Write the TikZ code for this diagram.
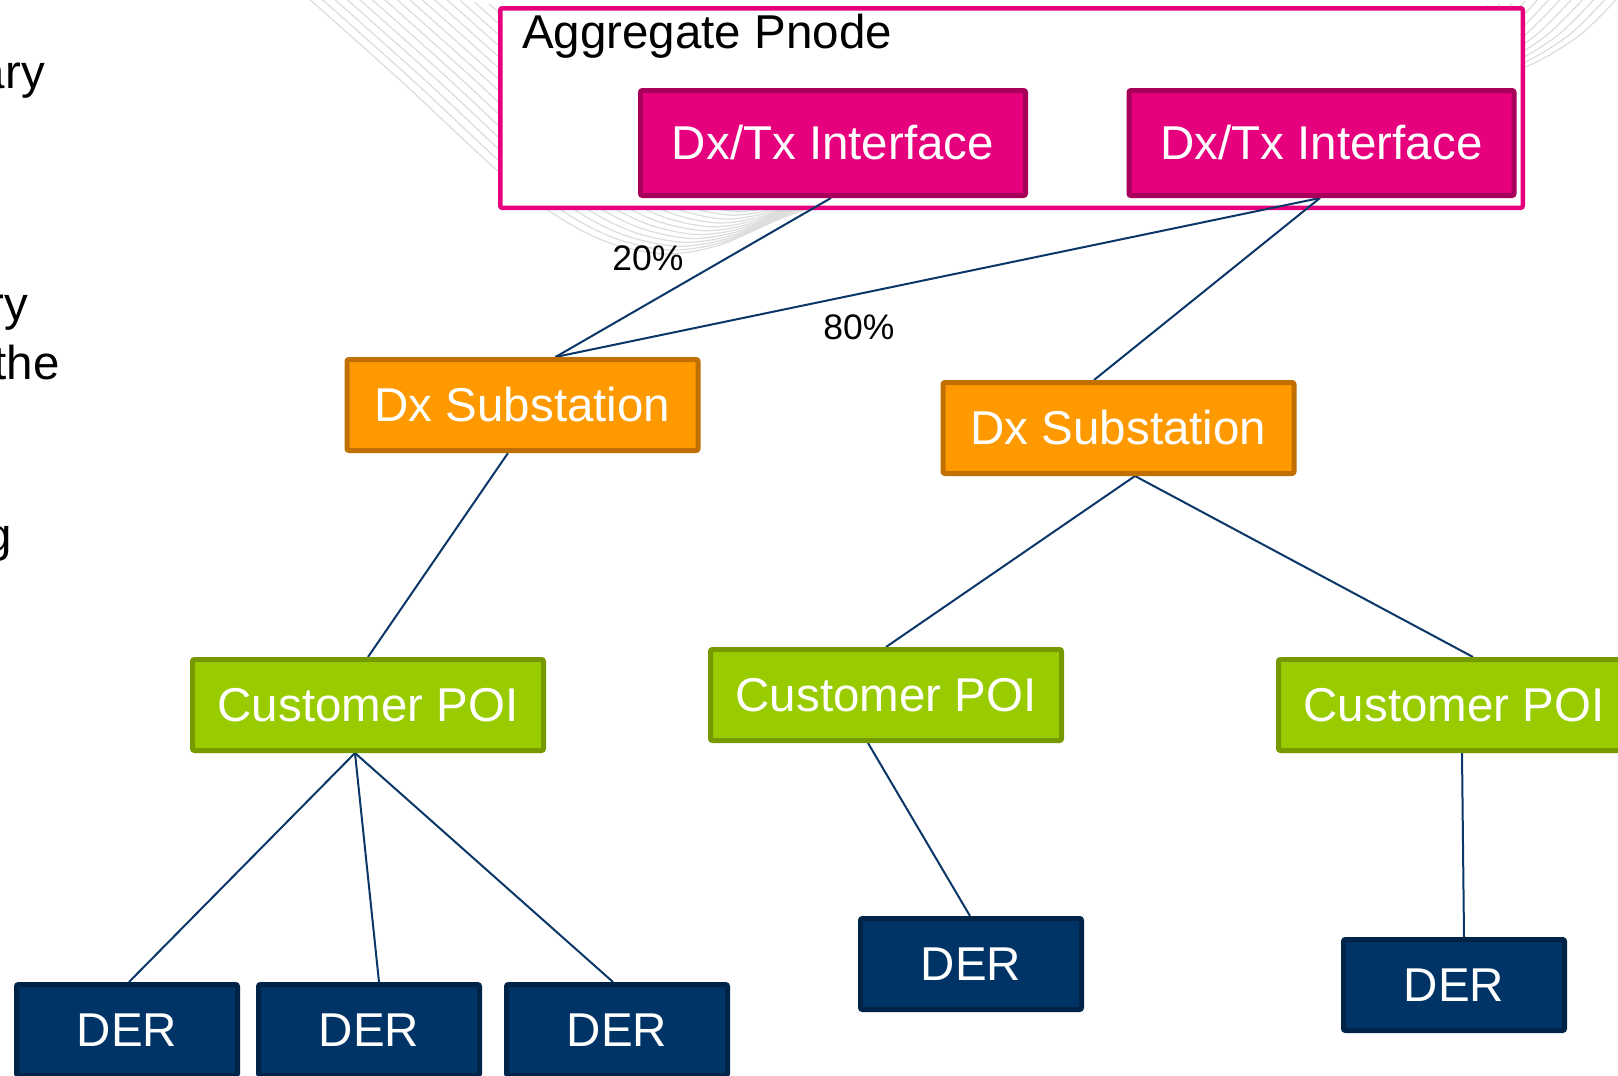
\documentclass[tikz,border=0pt]{standalone}
\usepackage{fontspec}
\setmainfont{Liberation Sans}
\usetikzlibrary{calc}
\pgfdeclarelayer{arcs}
\pgfdeclarelayer{agg}
\pgfdeclarelayer{links}
\pgfsetlayers{arcs,agg,links,main}

\definecolor{mag}{HTML}{E6007E}
\definecolor{magd}{HTML}{A8005A}
\definecolor{org}{HTML}{FF9900}
\definecolor{orgd}{HTML}{C07000}
\definecolor{grn}{HTML}{99CC00}
\definecolor{grnd}{HTML}{779900}
\definecolor{nav}{HTML}{003366}
\definecolor{navd}{HTML}{002447}
\definecolor{linkc}{HTML}{0A3668}
\definecolor{arcgray}{HTML}{DCDCDC}

\tikzset{
  box/.style={rectangle, rounded corners=2pt, line width=5pt, inner sep=0pt, text=white,
    font=\fontsize{47.5}{50}\selectfont, minimum height=91pt, minimum width=351pt},
  iface/.style={box, fill=mag, draw=magd, minimum width=385pt, minimum height=105pt},
  subbox/.style={box, fill=org, draw=orgd},
  poibox/.style={box, fill=grn, draw=grnd},
  derbox/.style={box, fill=nav, draw=navd, minimum width=221pt},
  linkline/.style={draw=linkc, line width=2pt},
  pct/.style={font=\fontsize{35.5}{38}\selectfont, text=black, inner sep=0pt},
  cuttext/.style={font=\fontsize{47.5}{52}\selectfont, text=black, inner sep=0pt, anchor=base east},
  arcline/.style={draw=arcgray, line width=1.2pt},
}

\begin{document}
\begin{tikzpicture}[x=1pt,y=-1pt]
\useasboundingbox (0,0) rectangle (1618,1076);

% background arcs
\begin{pgfonlayer}{arcs}
\foreach \k in {0,...,14} {
  \pgfmathsetmacro\s{1-0.02*\k}
  \draw[arcline, scale around={\s:(1000,60)}] plot[smooth] coordinates {(290,-18) (400,80) (499,172) (560,218) (610,243) (665,254) (720,245) (790,215) (900,180) (1100,135) (1300,105) (1450,85) (1523,68) (1580,35) (1625,-10)};
}
\end{pgfonlayer}

% aggregate pnode frame
\begin{pgfonlayer}{agg}
\node[draw=mag, line width=4.5pt, fill=white, rounded corners=2pt, inner sep=0pt,
      minimum width=1022.5pt, minimum height=199.5pt] (agg) at (1011.5,108) {};
\end{pgfonlayer}
\node[anchor=base west, inner sep=0pt, font=\fontsize{47.5}{50}\selectfont] (aggl) at (522,48) {Aggregate Pnode};

% cut-off slide text at the left edge
\node[cuttext] (c1) at (45,88) {ary};
\node[cuttext] (c2) at (28,320) {ry};
\node[cuttext] (c3) at (60,379) {the};
\node[cuttext] (c4) at (12,551) {g};

% boxes
\node[iface] (if1) at (833,143) {Dx/Tx Interface};
\node[iface] (if2) at (1321.5,143) {Dx/Tx Interface};
\node[subbox] (sub1) at (522.5,405) {Dx Substation};
\node[subbox] (sub2) at (1118.5,428) {Dx Substation};
\node[poibox] (poi1) at (368,705) {Customer POI};
\node[poibox] (poi2) at (886,695) {Customer POI};
\node[poibox] (poi3) at (1454,705) {Customer POI};
\node[derbox] (der1) at (127,1030) {DER};
\node[derbox] (der2) at (369,1030) {DER};
\node[derbox] (der3) at (617,1030) {DER};
\node[derbox] (der4) at (971,964) {DER};
\node[derbox] (der5) at (1454,985) {DER};

% percentages
\node[pct] (p20) at (648,258) {20\%};
\node[pct] (p80) at (859,327) {80\%};

% connectors
\begin{pgfonlayer}{links}
\draw[linkline] ($(if1.south)+(-2,0)$) -- ($(sub1.north)+(33,0)$);
\draw[linkline] ($(if2.south)+(-1.5,0)$) -- ($(sub1.north)+(33,0)$);
\draw[linkline] ($(if2.south)+(-1.5,0)$) -- ($(sub2.north)+(-24.5,0)$);
\draw[linkline] ($(sub1.south)+(-14.5,0)$) -- (poi1.north);
\draw[linkline] ($(sub2.south)+(16.5,0)$) -- (poi2.north);
\draw[linkline] ($(sub2.south)+(16.5,0)$) -- ($(poi3.north)+(19,0)$);
\draw[linkline] ($(poi1.south)+(-13,0)$) -- ($(der1.north)+(2,0)$);
\draw[linkline] ($(poi1.south)+(-13,0)$) -- ($(der2.north)+(10,0)$);
\draw[linkline] ($(poi1.south)+(-13,0)$) -- ($(der3.north)+(-4,0)$);
\draw[linkline] ($(poi2.south)+(-18,0)$) -- ($(der4.north)+(-1,0)$);
\draw[linkline] ($(poi3.south)+(8,0)$) -- ($(der5.north)+(10,0)$);
\end{pgfonlayer}
\end{tikzpicture}
\end{document}
